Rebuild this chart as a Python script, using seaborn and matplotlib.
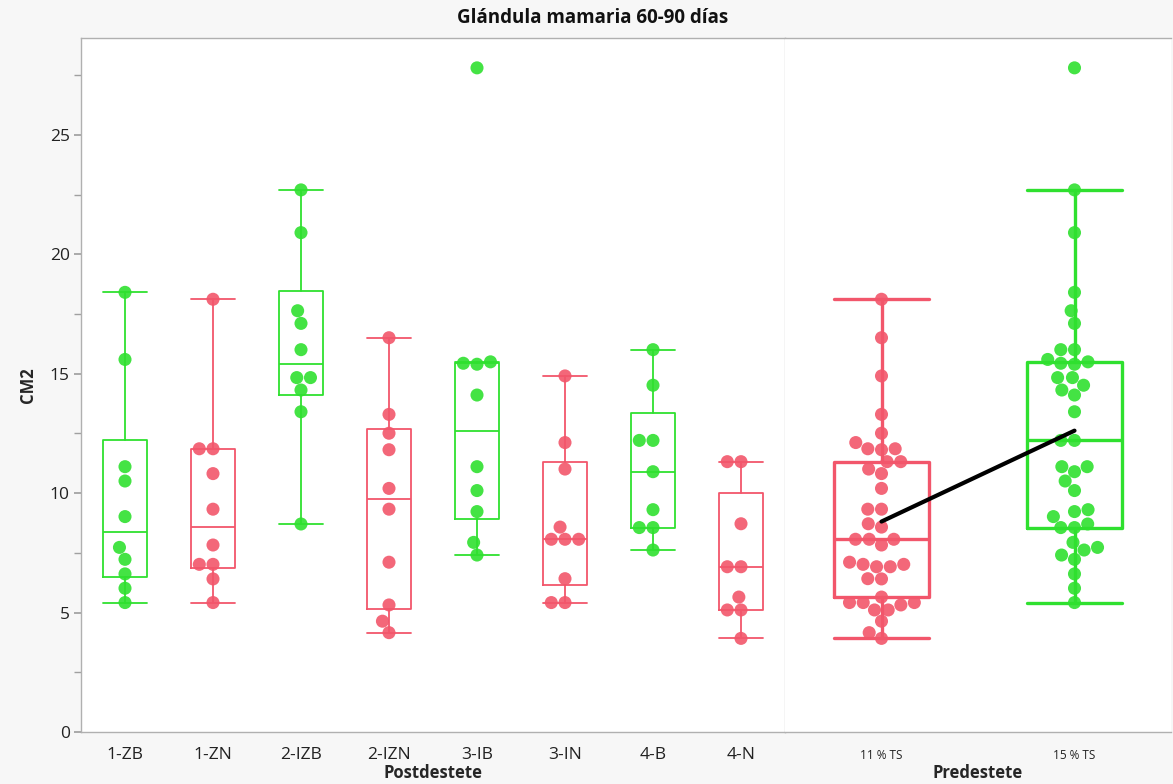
import numpy as np
import pandas as pd
import matplotlib.pyplot as plt
from matplotlib.ticker import MultipleLocator
import seaborn as sns

# valores (CM2)
post_groups = ['1-ZB', '1-ZN', '2-IZB', '2-IZN', '3-IB', '3-IN', '4-B', '4-N']
zb_1 = [18.41, 15.60, 11.11, 10.51, 9.02, 7.73, 7.23, 6.62, 6.02, 5.42]
zn_1 = [18.12, 11.86, 11.86, 10.82, 9.33, 7.83, 7.02, 7.02, 6.41, 5.42]
izb_2 = [22.70, 20.91, 17.64, 17.11, 16.01, 14.84, 14.84, 14.32, 13.41, 8.71]
izn_2 = [16.51, 13.30, 12.51, 11.82, 10.20, 9.33, 7.11, 5.32, 4.64, 4.16]
ib_3 = [27.81, 15.50, 15.44, 15.40, 14.11, 11.11, 10.11, 9.23, 7.94, 7.41]
in_3 = [14.91, 12.12, 11.01, 8.58, 8.07, 8.07, 8.07, 6.42, 5.42, 5.42]
b_4 = [16.01, 14.52, 12.21, 12.21, 10.90, 9.31, 8.56, 8.56, 7.62]
n_4 = [11.32, 11.32, 8.72, 6.92, 6.92, 5.65, 5.11, 5.11, 3.92]
post_values = [zb_1, zn_1, izb_2, izn_2, ib_3, in_3, b_4, n_4]

pre_groups = ['11 % TS', '15 % TS']
pre_members = {'11 % TS': ['1-ZN', '2-IZN', '3-IN', '4-N'],
               '15 % TS': ['1-ZB', '2-IZB', '3-IB', '4-B']}

GREEN = '#2FE02F'
RED = '#F2566B'
post_colors = [GREEN, RED, GREEN, RED, GREEN, RED, GREEN, RED]
pre_colors = [RED, GREEN]

post_df = pd.DataFrame({
    'grupo': np.repeat(post_groups, [len(v) for v in post_values]),
    'cm2': np.concatenate(post_values)})
pre_df = pd.concat([
    post_df[post_df['grupo'].isin(m)].assign(grupo=k) for k, m in pre_members.items()],
    ignore_index=True)


def jmp_stats(vals):
    # cuantiles tipo JMP ((n+1)p) y bigotes a 1.5 IQR
    v = np.sort(np.asarray(vals))
    q1, med, q3 = np.percentile(v, [25, 50, 75], method='weibull')
    iqr = q3 - q1
    return dict(med=med, q1=q1, q3=q3,
                whislo=v[v >= q1 - 1.5 * iqr].min(),
                whishi=v[v <= q3 + 1.5 * iqr].max(), fliers=[])


sns.set_theme(style='white')
plt.rcParams['font.family'] = ['Open Sans', 'DejaVu Sans']

fig = plt.figure(figsize=(11.73, 7.84), dpi=100)
fig.patch.set_facecolor('#f7f7f7')
ax1 = fig.add_axes([81 / 1173, 52 / 784, 704 / 1173, 694 / 784])
ax2 = fig.add_axes([785 / 1173, 52 / 784, 386 / 1173, 694 / 784], sharey=ax1)


def draw_panel(ax, df, groups, colors, lw, dot):
    for i, (g, c) in enumerate(zip(groups, colors)):
        st = jmp_stats(df.loc[df['grupo'] == g, 'cm2'])
        props = dict(color=c, linewidth=lw)
        ax.bxp([st], positions=[i], widths=0.49, capwidths=0.49,
               showfliers=False, manage_ticks=False,
               boxprops=props, medianprops=props, whiskerprops=props, capprops=props)
    sns.swarmplot(data=df, x='grupo', y='cm2', hue='grupo', order=groups,
                  hue_order=groups, palette=colors, size=dot, alpha=0.9,
                  linewidth=0, legend=False, ax=ax, zorder=3)
    ax.set_xlim(-0.5, len(groups) - 0.5)


draw_panel(ax1, post_df, post_groups, post_colors, 1.3, 9.4)
draw_panel(ax2, pre_df, pre_groups, pre_colors, 2.4, 9.4)

# línea de medias entre los dos grupos de predestete
sns.pointplot(data=pre_df, x='grupo', y='cm2', order=pre_groups, estimator='mean',
              errorbar=None, color='black', markers='', linewidth=3, ax=ax2, zorder=4)

ax1.set_ylim(0, 29.06)
ax1.yaxis.set_major_locator(MultipleLocator(5))
ax1.yaxis.set_minor_locator(MultipleLocator(2.5))
ax1.tick_params(axis='y', which='both', left=True, length=5, color='#a0a0a0',
                labelsize=12.5, labelcolor='#222222', pad=3)
ax1.tick_params(axis='x', bottom=False, labelsize=12.5, labelcolor='#222222', pad=5)
ax2.tick_params(axis='y', which='both', left=False, labelleft=False)
ax2.tick_params(axis='x', bottom=False, labelsize=8.5, labelcolor='#222222', pad=6)

for ax in (ax1, ax2):
    ax.set_facecolor('white')
    for s in ax.spines.values():
        s.set_color('#b0b0b0')
        s.set_linewidth(1)
ax1.spines['right'].set_color('#cccccc')
ax2.spines['left'].set_visible(False)
ax2.spines['right'].set_visible(False)

ax1.set_ylabel('CM2', fontsize=12, fontweight='bold')
ax1.yaxis.set_label_coords(-0.063, 0.5)
ax2.set_ylabel('')
for ax, name in ((ax1, 'Postdestete'), (ax2, 'Predestete')):
    ax.set_xlabel(name, fontsize=12, fontweight='bold', va='center')
    ax.xaxis.set_label_coords(0.5, -41 / 694)

fig.text(0.505, 0.977, 'Glándula mamaria 60-90 días', ha='center', va='center',
         fontsize=13.5, fontweight='bold', color='#111111')

fig.savefig('out.png', dpi=100, facecolor=fig.get_facecolor())
